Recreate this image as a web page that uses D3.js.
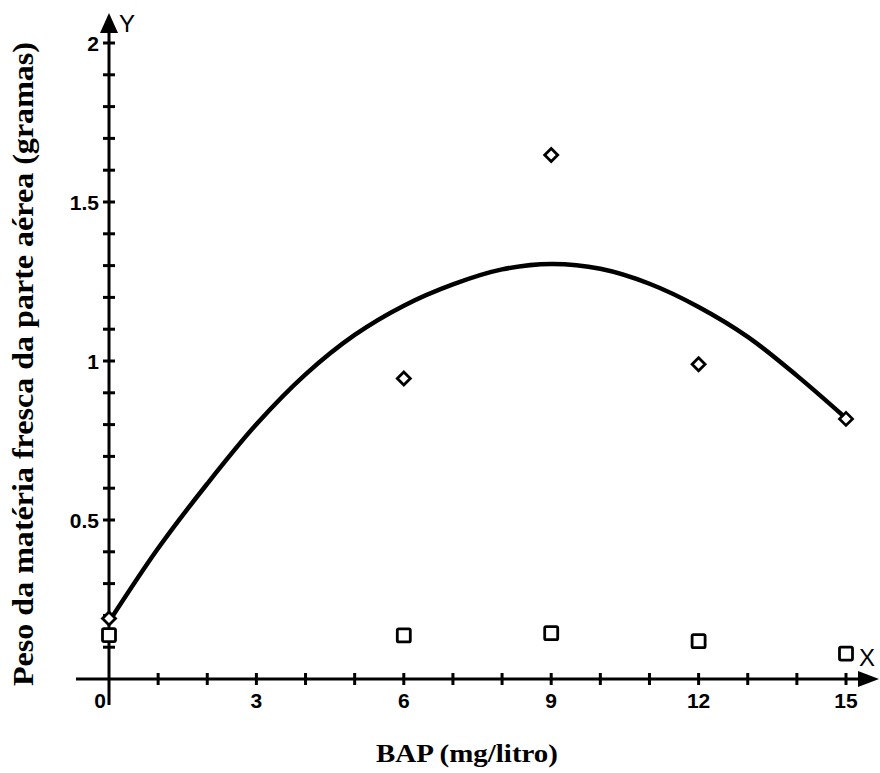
<!DOCTYPE html>
<html><head><meta charset="utf-8">
<script src="https://cdn.jsdelivr.net/npm/d3@7"></script>
<style>body{margin:0;background:#fff}svg{display:block}</style>
</head><body><svg id="c" width="880" height="773"></svg>
<script>
const doses = [0, 6, 9, 12, 15];
const diamondValues = [0.19, 0.945, 1.648, 0.99, 0.818];
const squareValues = [0.138, 0.137, 0.144, 0.119, 0.08];
const curveX = [0,1,2,3,4,5,6,7,8,9,10,11,12,13,14,15];
const curveY = [0.18,0.411,0.614,0.801,0.958,1.082,1.174,1.241,1.288,1.305,1.29,1.243,1.17,1.076,0.954,0.82];
const xTickLabels = [0,3,6,9,12,15];
const yTickLabels = [0.5,1,1.5,2];
const xTitle = "BAP (mg/litro)";
const yTitle = "Peso da matéria fresca da parte aérea (gramas)";

const svg = d3.select("#c");
const x = d3.scaleLinear().domain([0,15]).range([109,846]);
const y = d3.scaleLinear().domain([0,2]).range([679,43]);

// axes lines
svg.append("line").attr("x1",76).attr("x2",870).attr("y1",y(0)).attr("y2",y(0))
  .attr("stroke","#000").attr("stroke-width",3);
svg.append("line").attr("x1",x(0)).attr("x2",x(0)).attr("y1",705).attr("y2",25)
  .attr("stroke","#000").attr("stroke-width",3);
// arrows
svg.append("path").attr("d",`M${x(0)},13 L${x(0)-9},33 L${x(0)+9},33 Z`).attr("fill","#000");
svg.append("path").attr("d",`M879,${y(0)} L858,${y(0)-8} L858,${y(0)+8} Z`).attr("fill","#000");

// minor ticks
const xMinor = d3.range(1,16);
svg.append("g").selectAll("line").data(xMinor).join("line")
  .attr("x1",d=>x(d)).attr("x2",d=>x(d)).attr("y1",y(0)-6).attr("y2",y(0)+6)
  .attr("stroke","#000").attr("stroke-width",3);
const yMinor = d3.range(1,21).map(d=>d/10);
svg.append("g").selectAll("line").data(yMinor).join("line")
  .attr("x1",x(0)-6).attr("x2",x(0)+6).attr("y1",d=>y(d)).attr("y2",d=>y(d))
  .attr("stroke","#000").attr("stroke-width",3);

// tick labels
svg.append("g").selectAll("text").data(xTickLabels).join("text")
  .attr("x",d=>d===0?x(d)-9:x(d)).attr("y",708).attr("text-anchor","middle")
  .attr("font-family","Liberation Sans, Arial, sans-serif").attr("font-weight","bold").attr("font-size",21)
  .text(d=>d);
svg.append("g").selectAll("text").data(yTickLabels).join("text")
  .attr("x",99).attr("y",d=>y(d)+8).attr("text-anchor","end")
  .attr("font-family","Liberation Sans, Arial, sans-serif").attr("font-weight","bold").attr("font-size",21)
  .text(d=>d);

// axis letters
svg.append("text").attr("x",119).attr("y",32).attr("font-family","Liberation Sans, Arial, sans-serif")
  .attr("font-size",24).text("Y");
svg.append("text").attr("x",859).attr("y",666).attr("font-family","Liberation Sans, Arial, sans-serif")
  .attr("font-size",24).text("X");

// titles
svg.append("text").attr("x",376).attr("y",762)
  .attr("font-family","Liberation Serif, Times New Roman, serif").attr("font-weight","bold").attr("font-size",26)
  .attr("textLength",182).attr("lengthAdjust","spacingAndGlyphs").text(xTitle);
svg.append("text").attr("transform","translate(33,686) rotate(-90)")
  .attr("font-family","Liberation Serif, Times New Roman, serif").attr("font-weight","bold").attr("font-size",29)
  .attr("textLength",644).attr("lengthAdjust","spacingAndGlyphs").text(yTitle);

// curve
const pts = curveX.map((d,i)=>[d,curveY[i]]);
svg.append("path").datum(pts)
  .attr("d",d3.line().x(d=>x(d[0])).y(d=>y(d[1])).curve(d3.curveCatmullRom))
  .attr("fill","none").attr("stroke","#000").attr("stroke-width",4.5);

// diamonds
svg.append("g").selectAll("path").data(doses).join("path")
  .attr("transform",(d,i)=>`translate(${x(d)},${y(diamondValues[i])})`)
  .attr("d","M0,-6.5 L6.5,0 L0,6.5 L-6.5,0 Z")
  .attr("fill","#fff").attr("stroke","#000").attr("stroke-width",2.8);
// squares
svg.append("g").selectAll("rect").data(doses).join("rect")
  .attr("x",d=>x(d)-6.5).attr("y",(d,i)=>y(squareValues[i])-6.5)
  .attr("width",13).attr("height",13).attr("rx",1.5)
  .attr("fill","#fff").attr("stroke","#000").attr("stroke-width",2.8);
</script></body></html>
